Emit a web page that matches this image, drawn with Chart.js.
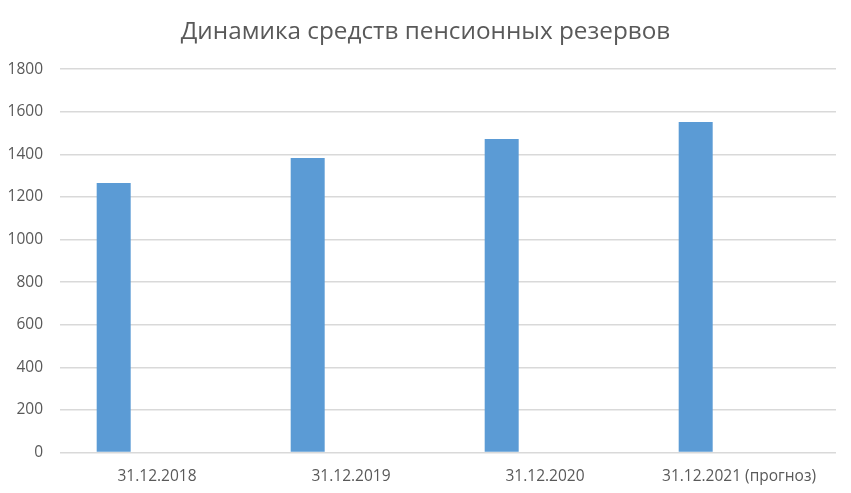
<!DOCTYPE html>
<html><head><meta charset="utf-8">
<script src="https://cdn.jsdelivr.net/npm/chart.js@4/dist/chart.umd.min.js"></script>
<style>html,body{margin:0;padding:0;background:#fff}#wrap{width:851px;height:493px}</style>
</head><body><div id="wrap"><canvas id="c"></canvas></div>
<script>
const categories = ["31.12.2018", "31.12.2019", "31.12.2020", "31.12.2021 (прогноз)"];
const reserves = [1265, 1383, 1472, 1552];
const emptySeries = [null, null, null, null];
const yTicks = [0, 200, 400, 600, 800, 1000, 1200, 1400, 1600, 1800];
const titleText = "Динамика средств пенсионных резервов";

new Chart(document.getElementById('c'), {
  type: 'bar',
  data: {
    labels: categories,
    datasets: [
      { label: 'Резервы', data: reserves, backgroundColor: '#5b9bd5', categoryPercentage: 0.893, barPercentage: 0.3925 },
      { label: '', data: emptySeries, backgroundColor: '#ed7d31', categoryPercentage: 0.893, barPercentage: 0.3925 }
    ]
  },
  options: {
    responsive: true, maintainAspectRatio: false, animation: false,
    devicePixelRatio: 1,
    layout: { padding: 0 },
    plugins: {
      legend: { display: false },
      tooltip: { enabled: false },
      title: { display: true, text: titleText, color: '#595959',
        font: { family: 'Open Sans', size: 24.3, weight: 'normal' }, padding: { top: 17, bottom: 23 } }
    },
    scales: {
      x: {
        grid: { display: false, drawTicks: false },
        border: { display: false },
        ticks: { color: '#595959', font: { family: 'Open Sans', size: 15.5 }, padding: 15, maxRotation: 0 },
        afterFit(s) { s.height = 40.5; }
      },
      y: {
        min: 0, max: 1800,
        afterBuildTicks(s) { s.ticks = yTicks.map(v => ({ value: v })); },
        grid: { color: '#d9d9d9', lineWidth: 1.5, drawTicks: false },
        border: { display: false },
        ticks: { color: '#595959', font: { family: 'Open Sans', size: 15.5 }, padding: 17,
          callback: v => String(v) },
        afterFit(s) { s.width = 60; }
      },
      yRight: {
        position: 'right', min: 0, max: 1800,
        grid: { display: false, drawTicks: false },
        border: { display: false },
        ticks: { display: false },
        afterFit(s) { s.width = 15; }
      }
    }
  }
});
</script>
</body></html>
